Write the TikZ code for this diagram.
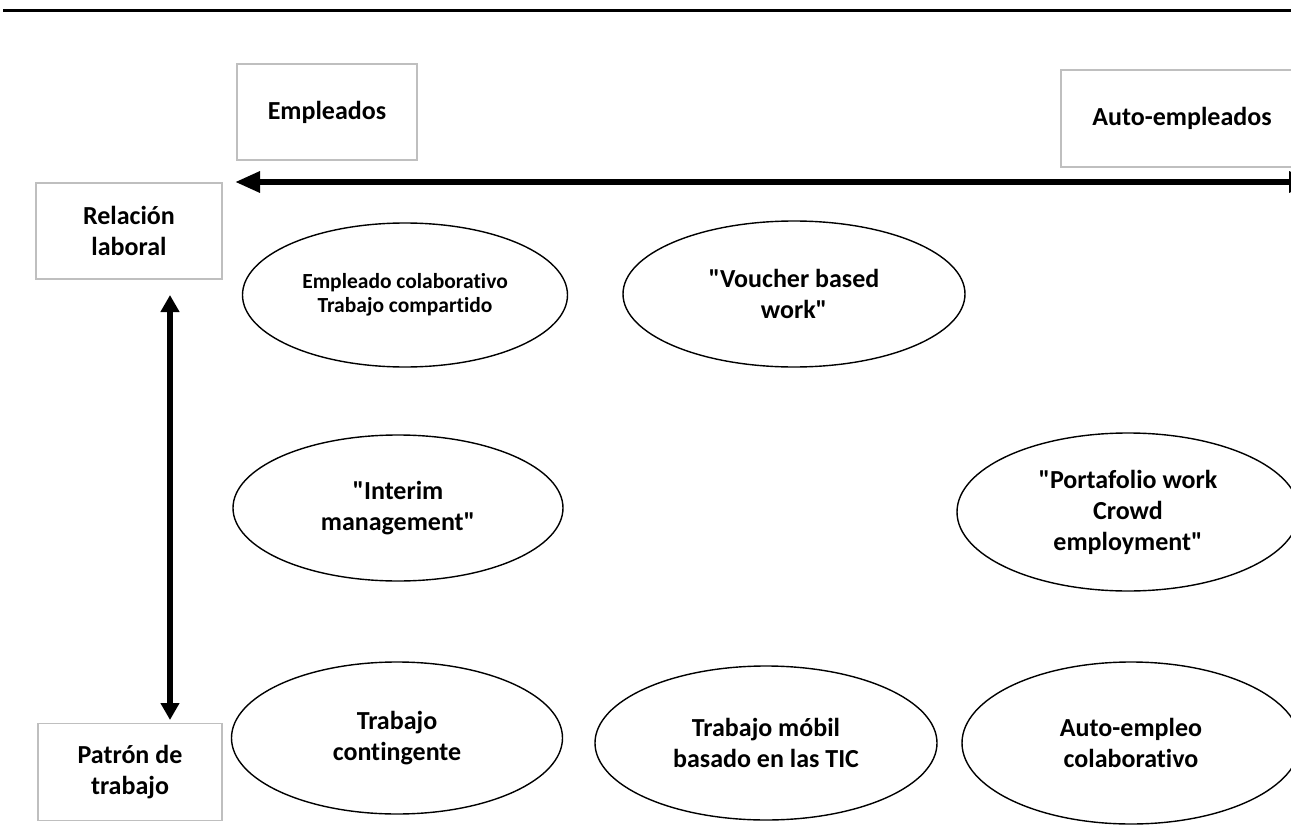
\documentclass[tikz,border=0pt]{standalone}
\usepackage{fontspec}
\setmainfont{Carlito}[Ligatures={TeXOff,NoCommon}]
\usetikzlibrary{arrows.meta,shapes.geometric}
\definecolor{boxgray}{RGB}{191,191,191}
\begin{document}
\begin{tikzpicture}[x=1pt,y=-1pt,
  lbl/.style={draw=boxgray, line width=1.6pt, align=center, inner sep=0pt,
    font=\bfseries\fontsize{26}{31}\selectfont},
  ell/.style={draw, ellipse, line width=1.4pt, align=center, inner sep=0pt,
    font=\bfseries\fontsize{26}{31}\selectfont},
  harrow/.style={line width=6pt, {Triangle[length=25pt,width=20pt]}-{Triangle[length=25pt,width=20pt]}},
  varrow/.style={line width=5.5pt, {Triangle[length=17pt,width=18pt]}-{Triangle[length=17pt,width=18pt]}}]
\useasboundingbox (0,0) rectangle (1291,832);
\begin{scope}
\clip (0,0) rectangle (1291,832);
% top rule
\coordinate (ruleL) at (3,10.5);
\coordinate (ruleR) at (1300,10.5);
\draw[line width=3.5pt] (ruleL) -- (ruleR);
% boxes
\node[lbl, minimum width=180pt, minimum height=96pt] (emp) at (327,112) {Empleados};
\node[lbl, minimum width=242pt, minimum height=97pt] (auto) at (1182,118.5) {Auto-empleados};
\node[lbl, minimum width=186pt, minimum height=96pt] (rel) at (129,231) {Relación\\laboral};
\node[lbl, minimum width=184pt, minimum height=97pt] (pat) at (130,772) {Patrón de\\trabajo};
% arrows
\coordinate (hL) at (235,182);
\coordinate (hR) at (1314,182);
\draw[harrow] (hL) -- (hR);
\coordinate (vT) at (170,295);
\coordinate (vB) at (170,720);
\draw[varrow] (vT) -- (vB);
% ellipses
\node[ell, minimum width=325pt, minimum height=144pt,
  font=\bfseries\fontsize{21.5}{24}\selectfont] (e1) at (405,295)
  {Empleado colaborativo\\Trabajo compartido};
\node[ell, minimum width=342pt, minimum height=146pt] (e2) at (794,294)
  {"Voucher based\\work"};
\node[ell, minimum width=330pt, minimum height=146pt] (e3) at (398,508)
  {"Interim\\management"};
\node[ell, minimum width=342pt, minimum height=158pt] (e4) at (1128,512)
  {"Portafolio work\\Crowd\\employment"};
\node[ell, minimum width=331pt, minimum height=152pt] (e5) at (397,738)
  {Trabajo\\contingente};
\node[ell, minimum width=342pt, minimum height=154pt] (e6) at (766,743)
  {Trabajo móbil\\basado en las TIC};
\node[ell, minimum width=338pt, minimum height=162pt] (e7) at (1131,743)
  {Auto-empleo\\colaborativo};
\end{scope}
\end{tikzpicture}
\end{document}
